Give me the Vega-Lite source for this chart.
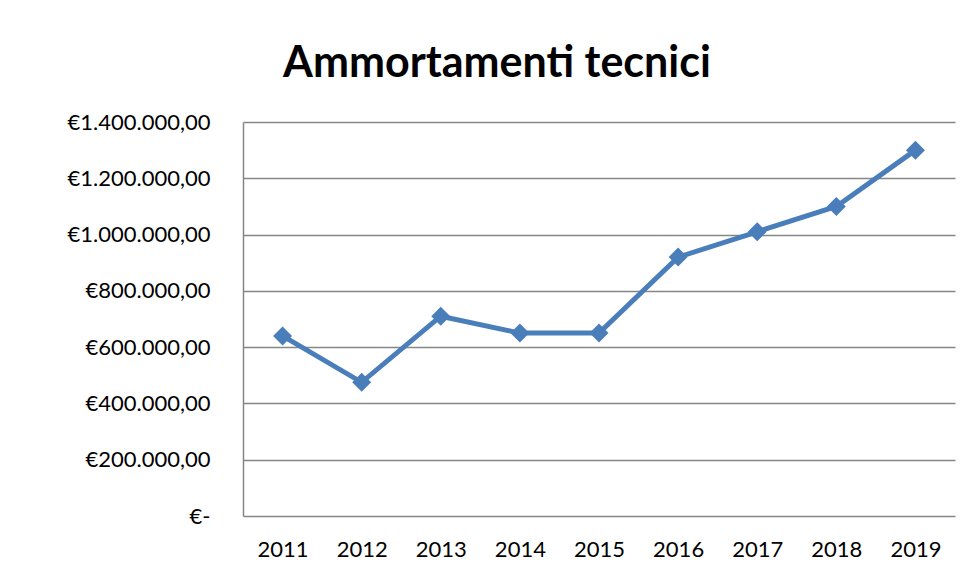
{
  "$schema": "https://vega.github.io/schema/vega-lite/v6.json",
  "width": 712,
  "height": 394,
  "autosize": {"type": "none"},
  "padding": {"left": 243, "top": 122, "right": 18, "bottom": 59},
  "background": "white",
  "title": {
    "text": "Ammortamenti tecnici",
    "font": "Lato",
    "fontSize": 43,
    "fontWeight": "bold",
    "color": "#000000",
    "anchor": "middle",
    "frame": "group",
    "dx": -102,
    "baseline": "alphabetic",
    "offset": -9
  },
  "config": {
    "locale": {
      "number": {"decimal": ",", "thousands": ".", "grouping": [3], "currency": ["€", ""]}
    },
    "view": {"stroke": null},
    "axis": {"labelFont": "Lato", "labelFontSize": 22, "labelColor": "#000000"}
  },
  "data": {
    "values": [
      {"year": "2011", "value": 640000},
      {"year": "2012", "value": 475000},
      {"year": "2013", "value": 710000},
      {"year": "2014", "value": 650000},
      {"year": "2015", "value": 650000},
      {"year": "2016", "value": 920000},
      {"year": "2017", "value": 1010000},
      {"year": "2018", "value": 1100000},
      {"year": "2019", "value": 1300000}
    ]
  },
  "mark": {
    "type": "line",
    "color": "#4A7EBB",
    "strokeWidth": 5,
    "point": {"shape": "diamond", "size": 361, "filled": true, "color": "#4A7EBB", "opacity": 1}
  },
  "encoding": {
    "x": {
      "field": "year",
      "type": "ordinal",
      "scale": {"type": "point", "padding": 0.5},
      "axis": {
        "title": null,
        "labelAngle": 0,
        "domain": false,
        "ticks": false,
        "tickSize": 0,
        "grid": false,
        "labelPadding": 23
      }
    },
    "y": {
      "field": "value",
      "type": "quantitative",
      "scale": {"domain": [0, 1400000], "nice": false},
      "axis": {
        "title": null,
        "values": [0, 200000, 400000, 600000, 800000, 1000000, 1200000, 1400000],
        "format": "$,.2f",
        "labelExpr": "datum.value == 0 ? '€-' : datum.label",
        "domain": true,
        "domainColor": "#868686",
        "domainWidth": 1.5,
        "ticks": false,
        "tickSize": 0,
        "grid": true,
        "gridColor": "#868686",
        "gridWidth": 1.5,
        "labelPadding": 33
      }
    }
  }
}
